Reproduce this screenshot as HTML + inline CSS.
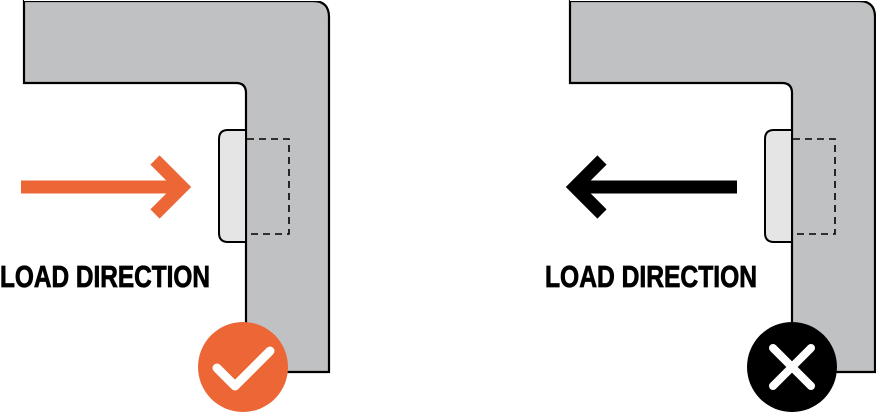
<!DOCTYPE html>
<html><head><style>
html,body{margin:0;padding:0;background:#fff;width:876px;height:413px;overflow:hidden}
svg{display:block}
text{font-family:"Liberation Sans",sans-serif;font-weight:bold}
</style></head><body>
<svg width="876" height="413" viewBox="0 0 876 413">
<g id="L">
<path d="M24,-3 L24,83 L236,83 Q246,83 246,93 L246,372 L329,372 L329,17 Q329,1 313,1 L300,1 L300,-3 Z" fill="#c0c1c3" stroke="none"/>
<path d="M24,-3 L24,83 L236,83 Q246,83 246,93 L246,372 L329,372 L329,17 Q329,1 313,1 L24,1" fill="none" stroke="#000" stroke-width="2.2"/>
<rect x="24" y="-3" width="300" height="4" fill="#fff"/>
<path d="M246,130 L228,130 Q219,130 219,139 L219,233 Q219,242 228,242 L246,242 Z" fill="#e5e5e5" stroke="#000" stroke-width="2"/>
<path d="M247,139 L289,139 L289,234 L247,234" fill="none" stroke="#000" stroke-width="1.6" stroke-dasharray="7,5"/>
</g>
<use href="#L" transform="translate(546,0)"/>
<line x1="21" y1="187" x2="180" y2="187" stroke="#ec6636" stroke-width="13"/>
<polyline points="155,160 182,187 155,214" fill="none" stroke="#ec6636" stroke-width="13"/>
<line x1="737" y1="187" x2="578" y2="187" stroke="#000" stroke-width="13"/>
<polyline points="602,160 575,187 602,214" fill="none" stroke="#000" stroke-width="13"/>
<text x="0" y="287" font-size="31" textLength="210" lengthAdjust="spacingAndGlyphs" stroke="#000" stroke-width="0.8">LOAD DIRECTION</text>
<text x="545" y="287" font-size="31" textLength="212" lengthAdjust="spacingAndGlyphs" stroke="#000" stroke-width="0.8">LOAD DIRECTION</text>
<circle cx="243" cy="367" r="45" fill="#ec6636"/>
<polyline points="217,368 235,386 270,351" fill="none" stroke="#fff" stroke-width="9" stroke-linecap="round" stroke-linejoin="round"/>
<circle cx="792" cy="367" r="45" fill="#000"/>
<path d="M773,348 L811,386 M811,348 L773,386" stroke="#fff" stroke-width="8" stroke-linecap="round"/>
</svg>
</body></html>
